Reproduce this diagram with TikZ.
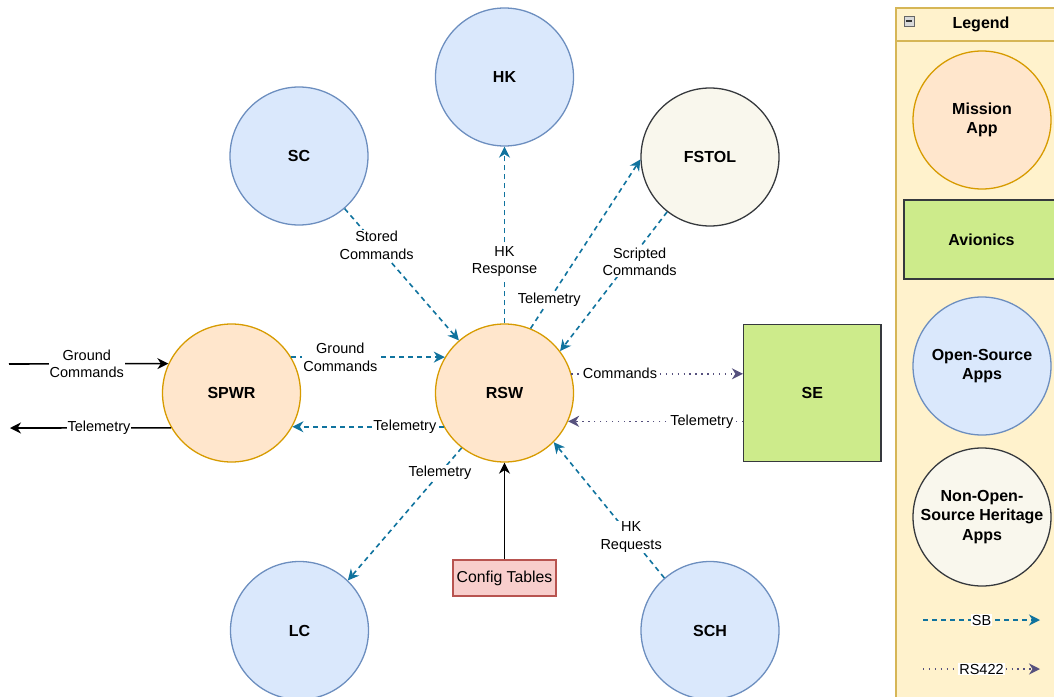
\documentclass[tikz,border=0pt]{standalone}
\usepackage{fontspec}
\setmainfont{Liberation Sans}
\usetikzlibrary{arrows.meta}
\definecolor{blueFill}{HTML}{DAE8FC}
\definecolor{blueLine}{HTML}{6C8EBF}
\definecolor{orFill}{HTML}{FFE6CC}
\definecolor{orLine}{HTML}{D79B00}
\definecolor{herFill}{HTML}{F9F7ED}
\definecolor{herLine}{HTML}{36393D}
\definecolor{grnFill}{HTML}{CDEB8B}
\definecolor{redFill}{HTML}{F8CECC}
\definecolor{redLine}{HTML}{B85450}
\definecolor{legFill}{HTML}{FFF2CC}
\definecolor{legLine}{HTML}{D6B656}
\definecolor{sbCol}{HTML}{10739E}
\definecolor{rsCol}{HTML}{56517E}
\begin{document}
\begin{tikzpicture}[x=1pt,y=-1pt,
  app/.style={circle, minimum size=138pt, inner sep=0pt, line width=1.3pt,
    align=center, text=black, font=\fontsize{16}{19.5}\selectfont\bfseries},
  mission/.style={app, fill=orFill, draw=orLine},
  open/.style={app, fill=blueFill, draw=blueLine},
  heritage/.style={app, fill=herFill, draw=herLine},
  avionics/.style={rectangle, fill=grnFill, draw=herLine, line width=1.3pt,
    inner sep=0pt, text=black, font=\fontsize{16}{19.5}\selectfont\bfseries},
  config/.style={rectangle, fill=redFill, draw=redLine, line width=1.3pt,
    inner sep=0pt, minimum width=103pt, minimum height=36pt, text=black,
    font=\fontsize{15.8}{18}\selectfont},
  lbl/.style={fill=white, inner sep=1pt, align=center, text=black,
    font=\fontsize{14.5}{17.5}\selectfont},
  tip/.style={-{Stealth[length=11pt,width=11pt,inset=3.5pt]}},
  sb/.style={draw=sbCol, line width=1.6pt, dash pattern=on 5pt off 4pt, tip},
  rs/.style={draw=rsCol, line width=1.6pt, dash pattern=on 1.4pt off 4.5pt, tip},
  plain/.style={draw=black, line width=1.6pt, tip},
]
\useasboundingbox (0,0) rectangle (1054,696);
\clip (0,0) rectangle (1054,696);

% legend container
\draw[fill=legFill, draw=legLine, line width=1.3pt] (896,8) rectangle (1080,720);
\draw[draw=legLine, line width=1.3pt] (896,41) -- (1080,41);
\node[font=\fontsize{16}{19.5}\selectfont\bfseries] (legtitle) at (981,24) {Legend};
\node[draw=gray!80!black, fill=gray!30, line width=0.6pt, minimum size=10pt,
  inner sep=0pt] (fold) at (909,21) {};
\draw[line width=1.6pt, black!80] ([xshift=2.2pt]fold.west) -- ([xshift=-2.2pt]fold.east);

\node[mission] (legmission) at (982,120) {Mission\\App};
\node[avionics, minimum width=155pt, minimum height=79pt] (legavionics) at (981.5,239.5) {Avionics};
\node[open] (legopen) at (982,366) {Open-Source\\Apps};
\node[heritage] (legheritage) at (982,517) {Non-Open-\\Source Heritage\\Apps};

\coordinate (sbA) at (923,620);
\coordinate (sbB) at (1040,620);
\draw[sb] (sbA) -- node[lbl] {SB} (sbB);
\coordinate (rsA) at (923,669);
\coordinate (rsB) at (1040,669);
\draw[rs] (rsA) -- node[lbl] {RS422} (rsB);

% applications
\node[open] (hk) at (504.5,77) {HK};
\node[open] (sc) at (299,156) {SC};
\node[heritage] (fstol) at (710,157) {FSTOL};
\node[mission] (spwr) at (231.5,393) {SPWR};
\node[mission] (rsw) at (504.5,393) {RSW};
\node[open] (lc) at (299.5,630.5) {LC};
\node[open] (sch) at (710,630.5) {SCH};
\node[avionics, minimum width=137.5pt, minimum height=137pt] (se) at (812.3,393.2) {SE};
\node[config] (cfg) at (504.5,578) {Config Tables};

% software bus traffic
\draw[sb] (sc) -- node[lbl, pos=0.28] {Stored\\Commands} (rsw);
\draw[sb] (rsw) -- node[lbl, pos=0.35] {HK\\Response} (hk);
\draw[sb] (rsw.68) -- node[lbl, pos=0.17] {Telemetry} (fstol.182);
\draw[sb] (fstol.232) -- node[lbl, pos=0.36, xshift=11pt] {Scripted\\Commands} (rsw.37);
\draw[sb] (spwr.31) -- node[lbl, pos=0.32] {Ground\\Commands} (rsw.149);
\draw[sb] (rsw.209) -- node[lbl, pos=0.256] {Telemetry} (spwr.-29);
\draw[sb] (rsw.232) -- node[lbl, pos=0.19] {Telemetry} (lc.46);
\draw[sb] (sch.131) -- node[lbl, pos=0.3] {HK\\Requests} (rsw.-45);

% serial link to the spacecraft electronics
\draw[rs] (rsw.16) -- node[lbl, pos=0.283] {Commands} (rsw.16 -| se.west);
\draw[rs] (rsw.-24 -| se.west) -- node[lbl, pos=0.235] {Telemetry} (rsw.-24);

% configuration and ground links
\draw[plain] (cfg) -- (rsw);
\coordinate (gin) at (9,364);
\coordinate (gout) at (10,428);
\draw[plain] (gin) -- node[lbl, pos=0.488] {Ground\\Commands} (spwr.155);
\draw[plain] (spwr.210) -- node[lbl, pos=0.448] {Telemetry} (gout);
\end{tikzpicture}
\end{document}
